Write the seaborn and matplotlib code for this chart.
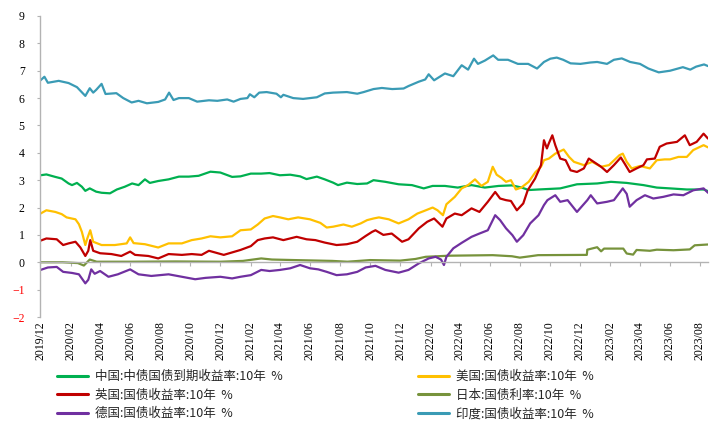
import matplotlib
matplotlib.use("Agg")
import matplotlib.pyplot as plt
import matplotlib.dates as mdates
import pandas as pd
import seaborn as sns

# ---------------- data ----------------
china_dates = ["2019-12-02", "2019-12-14", "2020-01-01", "2020-01-14", "2020-01-28", "2020-02-04",
               "2020-02-14", "2020-02-24", "2020-03-02", "2020-03-11", "2020-03-24", "2020-04-04",
               "2020-04-21", "2020-05-05", "2020-05-21", "2020-06-05", "2020-06-18", "2020-07-01",
               "2020-07-11", "2020-07-28", "2020-08-18", "2020-09-08", "2020-09-28", "2020-10-18",
               "2020-11-11", "2020-12-01", "2020-12-25", "2021-01-11", "2021-02-01", "2021-02-22",
               "2021-03-11", "2021-04-01", "2021-04-22", "2021-05-12", "2021-05-25", "2021-06-15",
               "2021-07-01", "2021-07-18", "2021-07-28", "2021-08-15", "2021-09-05", "2021-09-25",
               "2021-10-08", "2021-11-01", "2021-11-28", "2021-12-25", "2022-01-18", "2022-02-05",
               "2022-03-02", "2022-03-28", "2022-04-25", "2022-05-22", "2022-06-19", "2022-07-16",
               "2022-08-05", "2022-08-19", "2022-09-08", "2022-10-22", "2022-11-25", "2023-01-05",
               "2023-02-02", "2023-03-06", "2023-04-09", "2023-05-06", "2023-06-02", "2023-07-06",
               "2023-08-09", "2023-08-18"]
china_vals = [3.18, 3.21, 3.12, 3.06, 2.88, 2.82, 2.90, 2.76, 2.61, 2.70, 2.58, 2.54,
              2.52, 2.66, 2.76, 2.88, 2.82, 3.03, 2.90, 2.97, 3.03, 3.13, 3.13, 3.16,
              3.31, 3.28, 3.12, 3.14, 3.24, 3.24, 3.26, 3.18, 3.20, 3.14, 3.04, 3.13,
              3.03, 2.91, 2.82, 2.91, 2.86, 2.88, 3.00, 2.94, 2.85, 2.82, 2.70, 2.79,
              2.79, 2.73, 2.82, 2.73, 2.79, 2.81, 2.73, 2.64, 2.66, 2.70, 2.85, 2.88,
              2.94, 2.90, 2.82, 2.73, 2.70, 2.66, 2.66, 2.60]

us_dates = ["2019-12-02", "2019-12-14", "2020-01-01", "2020-01-14", "2020-01-24", "2020-02-11",
            "2020-02-18", "2020-02-24", "2020-03-02", "2020-03-06", "2020-03-12", "2020-03-18",
            "2020-04-04", "2020-05-01", "2020-05-25", "2020-06-01", "2020-06-08", "2020-07-01",
            "2020-07-28", "2020-08-18", "2020-09-14", "2020-10-04", "2020-10-24", "2020-11-11",
            "2020-12-01", "2020-12-25", "2021-01-11", "2021-02-01", "2021-02-15", "2021-03-01",
            "2021-03-18", "2021-04-01", "2021-04-18", "2021-05-08", "2021-06-01", "2021-06-22",
            "2021-07-05", "2021-07-18", "2021-08-08", "2021-08-25", "2021-09-12", "2021-09-25",
            "2021-10-08", "2021-10-19", "2021-11-08", "2021-11-28", "2021-12-18", "2022-01-05",
            "2022-01-18", "2022-02-05", "2022-02-15", "2022-02-26", "2022-03-05", "2022-03-22",
            "2022-04-05", "2022-04-18", "2022-05-02", "2022-05-15", "2022-05-28", "2022-06-07",
            "2022-06-15", "2022-06-25", "2022-07-04", "2022-07-14", "2022-07-24", "2022-08-04",
            "2022-08-19", "2022-09-02", "2022-09-13", "2022-09-19", "2022-09-29", "2022-10-12",
            "2022-10-29", "2022-11-09", "2022-11-19", "2022-12-09", "2022-12-26", "2023-01-13",
            "2023-01-29", "2023-02-19", "2023-02-26", "2023-03-06", "2023-03-16", "2023-04-02",
            "2023-04-22", "2023-05-06", "2023-05-22", "2023-06-02", "2023-06-19", "2023-07-06",
            "2023-07-19", "2023-08-09", "2023-08-18"]
us_vals = [1.78, 1.90, 1.84, 1.76, 1.64, 1.57, 1.39, 1.11, 0.63, 0.87, 1.17, 0.75,
           0.63, 0.63, 0.69, 0.91, 0.70, 0.66, 0.54, 0.69, 0.69, 0.81, 0.87, 0.95,
           0.91, 0.95, 1.17, 1.20, 1.38, 1.60, 1.69, 1.64, 1.57, 1.64, 1.57, 1.44,
           1.27, 1.30, 1.38, 1.30, 1.42, 1.54, 1.60, 1.64, 1.57, 1.42, 1.57, 1.78,
           1.87, 2.00, 1.90, 1.72, 2.12, 2.39, 2.70, 2.82, 3.03, 2.79, 2.94, 3.49,
           3.20, 3.08, 2.94, 3.00, 2.66, 2.73, 2.94, 3.30, 3.49, 3.73, 3.79, 3.97,
           4.12, 3.85, 3.67, 3.55, 3.67, 3.49, 3.55, 3.91, 3.97, 3.67, 3.43, 3.52,
           3.43, 3.73, 3.76, 3.76, 3.85, 3.85, 4.10, 4.28, 4.20]

uk_dates = ["2019-12-02", "2019-12-14", "2020-01-04", "2020-01-17", "2020-01-28", "2020-02-11",
            "2020-02-21", "2020-03-02", "2020-03-08", "2020-03-12", "2020-03-18", "2020-04-01",
            "2020-04-24", "2020-05-14", "2020-06-01", "2020-06-11", "2020-07-08", "2020-07-28",
            "2020-08-18", "2020-09-14", "2020-10-04", "2020-10-24", "2020-11-08", "2020-12-08",
            "2020-12-25", "2021-01-11", "2021-02-01", "2021-02-15", "2021-03-01", "2021-03-18",
            "2021-04-08", "2021-05-05", "2021-05-25", "2021-06-12", "2021-07-01", "2021-07-25",
            "2021-08-15", "2021-09-05", "2021-09-22", "2021-10-05", "2021-10-12", "2021-10-28",
            "2021-11-14", "2021-12-05", "2021-12-18", "2022-01-08", "2022-01-25", "2022-02-08",
            "2022-02-25", "2022-03-05", "2022-03-22", "2022-04-05", "2022-04-25", "2022-05-11",
            "2022-05-28", "2022-06-12", "2022-06-22", "2022-07-04", "2022-07-14", "2022-07-26",
            "2022-08-08", "2022-08-17", "2022-09-01", "2022-09-13", "2022-09-19", "2022-09-25",
            "2022-09-29", "2022-10-06", "2022-10-12", "2022-10-22", "2022-11-02", "2022-11-12",
            "2022-11-25", "2022-12-09", "2022-12-19", "2022-12-29", "2023-01-13", "2023-01-25",
            "2023-02-08", "2023-02-22", "2023-03-02", "2023-03-12", "2023-03-26", "2023-04-09",
            "2023-04-16", "2023-05-02", "2023-05-12", "2023-05-26", "2023-06-16", "2023-07-02",
            "2023-07-12", "2023-07-26", "2023-08-09", "2023-08-18"]
uk_vals = [0.79, 0.87, 0.84, 0.63, 0.69, 0.75, 0.54, 0.23, 0.42, 0.81, 0.42, 0.33,
           0.30, 0.23, 0.39, 0.27, 0.23, 0.14, 0.30, 0.27, 0.30, 0.27, 0.42, 0.27,
           0.36, 0.45, 0.59, 0.81, 0.87, 0.91, 0.81, 0.93, 0.84, 0.81, 0.72, 0.63,
           0.66, 0.75, 0.96, 1.11, 1.17, 1.00, 1.05, 0.75, 0.84, 1.24, 1.48, 1.60,
           1.30, 1.60, 1.78, 1.72, 1.97, 1.84, 2.21, 2.57, 2.33, 2.27, 2.24, 1.90,
           2.15, 2.63, 3.06, 3.55, 4.46, 4.16, 4.35, 4.64, 4.28, 3.79, 3.73, 3.36,
           3.30, 3.43, 3.79, 3.67, 3.49, 3.30, 3.55, 3.83, 3.60, 3.30, 3.43, 3.55,
           3.76, 3.79, 4.22, 4.34, 4.40, 4.64, 4.28, 4.40, 4.70, 4.52]

japan_dates = ["2019-12-02", "2020-01-16", "2020-02-16", "2020-02-28", "2020-03-11", "2020-03-25",
               "2020-06-01", "2020-09-01", "2020-12-01", "2021-01-16", "2021-02-22", "2021-03-16",
               "2021-05-01", "2021-07-16", "2021-08-16", "2021-10-01", "2021-12-01", "2022-01-01",
               "2022-01-22", "2022-03-10", "2022-06-07", "2022-07-16", "2022-08-01", "2022-08-22",
               "2022-09-07", "2022-12-15", "2022-12-16", "2023-01-05", "2023-01-13", "2023-01-19",
               "2023-02-27", "2023-03-06", "2023-03-19", "2023-03-26", "2023-04-22", "2023-05-06",
               "2023-06-09", "2023-07-12", "2023-07-22", "2023-08-18"]
japan_vals = [0.00, 0.00, -0.03, -0.12, 0.10, 0.02, 0.02, 0.03, 0.02, 0.05, 0.14, 0.10,
              0.08, 0.05, 0.02, 0.08, 0.06, 0.12, 0.20, 0.24, 0.26, 0.22, 0.17, 0.22,
              0.26, 0.27, 0.46, 0.55, 0.40, 0.50, 0.50, 0.32, 0.28, 0.45, 0.42, 0.46,
              0.44, 0.47, 0.62, 0.65]

germany_dates = ["2019-12-02", "2019-12-17", "2020-01-04", "2020-01-17", "2020-02-04", "2020-02-18",
                 "2020-03-02", "2020-03-08", "2020-03-14", "2020-03-21", "2020-04-01", "2020-04-18",
                 "2020-05-07", "2020-06-01", "2020-06-18", "2020-07-14", "2020-08-18", "2020-09-14",
                 "2020-10-11", "2020-11-01", "2020-12-01", "2020-12-25", "2021-01-11", "2021-02-01",
                 "2021-02-22", "2021-03-11", "2021-04-01", "2021-04-22", "2021-05-12", "2021-06-01",
                 "2021-06-18", "2021-07-05", "2021-07-25", "2021-08-15", "2021-09-05", "2021-09-22",
                 "2021-10-12", "2021-11-01", "2021-11-28", "2021-12-18", "2022-01-08", "2022-01-28",
                 "2022-02-11", "2022-02-22", "2022-02-28", "2022-03-05", "2022-03-19", "2022-04-05",
                 "2022-04-25", "2022-05-11", "2022-05-28", "2022-06-12", "2022-06-22", "2022-07-04",
                 "2022-07-17", "2022-07-26", "2022-08-08", "2022-08-22", "2022-09-08", "2022-09-19",
                 "2022-09-26", "2022-10-12", "2022-10-22", "2022-11-06", "2022-11-25", "2022-12-16",
                 "2022-12-23", "2023-01-05", "2023-01-25", "2023-02-08", "2023-02-26", "2023-03-06",
                 "2023-03-12", "2023-03-26", "2023-04-12", "2023-04-29", "2023-05-19", "2023-06-09",
                 "2023-06-29", "2023-07-19", "2023-08-09", "2023-08-18"]
germany_vals = [-0.28, -0.19, -0.17, -0.35, -0.39, -0.44, -0.77, -0.64, -0.26, -0.42, -0.32, -0.53,
                -0.44, -0.26, -0.44, -0.50, -0.44, -0.53, -0.62, -0.57, -0.53, -0.59, -0.53, -0.47,
                -0.28, -0.32, -0.28, -0.22, -0.10, -0.22, -0.26, -0.35, -0.47, -0.44, -0.35, -0.19,
                -0.13, -0.28, -0.38, -0.28, -0.04, 0.14, 0.20, 0.10, -0.10, 0.20, 0.51, 0.71,
                0.93, 1.05, 1.17, 1.72, 1.54, 1.24, 0.99, 0.75, 0.99, 1.42, 1.72, 2.09,
                2.27, 2.45, 2.21, 2.27, 1.84, 2.27, 2.45, 2.15, 2.21, 2.27, 2.70, 2.50,
                2.03, 2.27, 2.45, 2.33, 2.39, 2.48, 2.45, 2.63, 2.70, 2.54]

india_dates = ["2019-12-02", "2019-12-10", "2019-12-17", "2020-01-08", "2020-01-28", "2020-02-14",
               "2020-03-02", "2020-03-11", "2020-03-18", "2020-03-24", "2020-04-04", "2020-04-12",
               "2020-05-04", "2020-05-18", "2020-06-04", "2020-06-18", "2020-07-05", "2020-07-28",
               "2020-08-11", "2020-08-19", "2020-08-28", "2020-09-08", "2020-09-28", "2020-10-15",
               "2020-11-08", "2020-11-25", "2020-12-15", "2020-12-28", "2021-01-11", "2021-01-25",
               "2021-01-30", "2021-02-08", "2021-02-18", "2021-03-05", "2021-03-25", "2021-04-03",
               "2021-04-08", "2021-04-28", "2021-05-18", "2021-06-15", "2021-07-01", "2021-07-18",
               "2021-08-15", "2021-09-05", "2021-09-18", "2021-10-08", "2021-10-25", "2021-11-15",
               "2021-12-08", "2021-12-18", "2022-01-08", "2022-01-21", "2022-01-28", "2022-02-08",
               "2022-03-02", "2022-03-19", "2022-04-05", "2022-04-18", "2022-04-30", "2022-05-08",
               "2022-05-22", "2022-06-08", "2022-06-18", "2022-07-08", "2022-07-28", "2022-08-18",
               "2022-09-05", "2022-09-19", "2022-10-02", "2022-10-15", "2022-10-28", "2022-11-12",
               "2022-12-02", "2022-12-22", "2023-01-05", "2023-01-25", "2023-02-08", "2023-02-24",
               "2023-03-13", "2023-04-02", "2023-04-19", "2023-05-10", "2023-06-02", "2023-06-28",
               "2023-07-13", "2023-07-25", "2023-08-10", "2023-08-18"]
india_vals = [6.65, 6.78, 6.56, 6.63, 6.55, 6.40, 6.08, 6.36, 6.20, 6.30, 6.52, 6.15,
              6.18, 6.00, 5.84, 5.90, 5.81, 5.86, 5.95, 6.20, 5.93, 6.00, 6.00, 5.87,
              5.92, 5.90, 5.95, 5.87, 5.97, 6.00, 6.14, 6.03, 6.20, 6.22, 6.16, 6.03,
              6.12, 6.00, 5.97, 6.03, 6.17, 6.20, 6.22, 6.16, 6.22, 6.33, 6.37, 6.33,
              6.35, 6.44, 6.60, 6.68, 6.87, 6.65, 6.90, 6.80, 7.20, 7.04, 7.44, 7.25,
              7.37, 7.56, 7.40, 7.40, 7.25, 7.25, 7.08, 7.32, 7.44, 7.48, 7.40, 7.27,
              7.25, 7.30, 7.32, 7.25, 7.40, 7.45, 7.32, 7.25, 7.08, 6.94, 7.00, 7.13,
              7.04, 7.15, 7.23, 7.17]

labels = ["中国:中债国债到期收益率:10年  %", "美国:国债收益率:10年  %", "英国:国债收益率:10年  %",
          "日本:国债利率:10年  %", "德国:国债收益率:10年  %", "印度:国债收益率:10年  %"]
colors = ["#00B050", "#FFC000", "#C00000", "#77933C", "#7030A0", "#3A9BB5"]
y_ticks = [-2, -1, 0, 1, 2, 3, 4, 5, 6, 7, 8, 9]
x_start, x_end = "2019-12-01", "2023-08-18"

# ---------------- figure ----------------
sns.set_theme(style="white")
plt.rcParams["font.family"] = ["Noto Sans CJK SC", "DejaVu Sans"]

W, H = 723, 429
fig = plt.figure(figsize=(W / 100, H / 100), dpi=100)
ax = fig.add_axes([40 / W, 1 - 317 / H, (708 - 40) / W, (317 - 16) / H])

series = [(china_dates, china_vals), (us_dates, us_vals), (uk_dates, uk_vals),
          (japan_dates, japan_vals), (germany_dates, germany_vals), (india_dates, india_vals)]
handles = []
for (d, v), lab, col in zip(series, labels, colors):
    df = pd.DataFrame({"date": pd.to_datetime(d), "value": v})
    sns.lineplot(data=df, x="date", y="value", color=col, linewidth=1.6, ax=ax,
                 estimator=None, sort=False, legend=False)
    handles.append(ax.lines[-1])

ax.set_xlim(pd.Timestamp(x_start), pd.Timestamp(x_end))
ax.set_ylim(y_ticks[0], y_ticks[-1])
ax.set_yticks(y_ticks)
ax.set_xlabel("")
ax.set_ylabel("")

grey = "#B3B3B3"
for s in ["top", "right"]:
    ax.spines[s].set_visible(False)
ax.spines["left"].set_color(grey)
ax.spines["left"].set_linewidth(1.0)
ax.spines["bottom"].set_position(("data", 0))
ax.spines["bottom"].set_color(grey)
ax.spines["bottom"].set_linewidth(1.0)

loc = mdates.MonthLocator(bymonth=(2, 4, 6, 8, 10, 12))
ax.xaxis.set_major_locator(loc)
ax.tick_params(axis="x", direction="out", length=3.2, width=0.8, color=grey,
               labelbottom=False, bottom=True)
ax.tick_params(axis="y", direction="out", length=2.5, width=0.8, color=grey, left=True,
               labelsize=8.5, pad=8.5, labelfontfamily="Liberation Serif", labelcolor="black")
for tick, val in zip(ax.yaxis.get_major_ticks(), y_ticks):
    tick.label1.set_color("#FF0000" if val < 0 else "black")

sec = ax.secondary_xaxis("bottom")
sec.xaxis.set_major_locator(mdates.MonthLocator(bymonth=(2, 4, 6, 8, 10, 12)))
sec.xaxis.set_major_formatter(mdates.DateFormatter("%Y/%m"))
sec.spines["bottom"].set_visible(False)
sec.tick_params(axis="x", length=0, pad=3, labelsize=8.5, labelrotation=90,
                labelfontfamily="Liberation Serif", labelcolor="black")

leg_kw = dict(frameon=False, fontsize=9, handlelength=2.5, handletextpad=0.55,
              labelspacing=0.45, borderpad=0, borderaxespad=0, loc="upper left")
fig.legend([handles[0], handles[2], handles[4]], [labels[0], labels[2], labels[4]],
           bbox_to_anchor=(57 / W, 1 - 370 / H), **leg_kw)
fig.legend([handles[1], handles[3], handles[5]], [labels[1], labels[3], labels[5]],
           bbox_to_anchor=(418 / W, 1 - 370 / H), **leg_kw)
for lg in fig.legends:
    for ln in lg.get_lines():
        ln.set_linewidth(2.2)

fig.savefig("out.png", dpi=100)
